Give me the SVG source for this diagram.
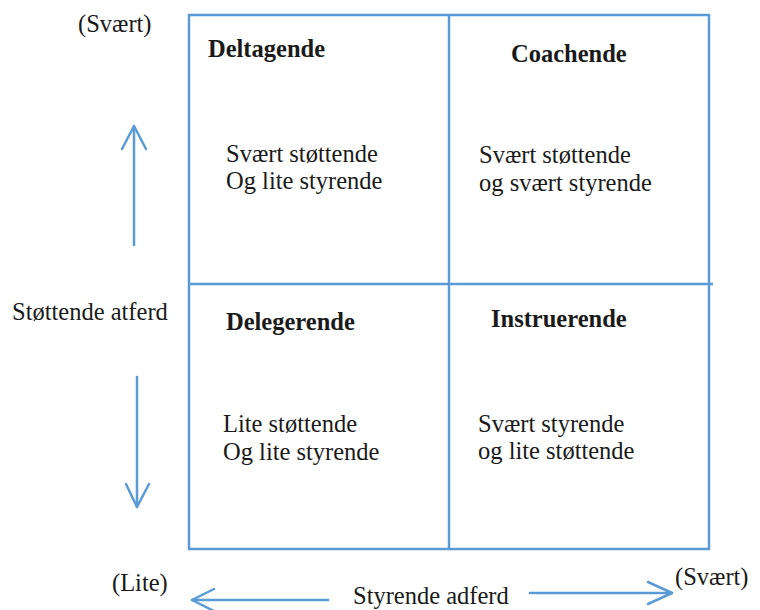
<svg xmlns="http://www.w3.org/2000/svg" width="760" height="610" viewBox="0 0 760 610">
<style>
.ln{fill:none;stroke:#5b9bd5;stroke-width:2.5}
.ar{fill:none;stroke:#5b9bd5;stroke-width:2.5;stroke-linecap:round;stroke-linejoin:round}
text{font-family:"Liberation Serif","Times New Roman",serif;font-size:24.5px;fill:#1a1a1a}
.b{font-weight:bold}
</style>
<rect width="760" height="610" fill="#ffffff"/>
<g id="grid">
<rect class="ln" x="189" y="15" width="520" height="534"/>
<line class="ln" x1="449" y1="15" x2="449" y2="549"/>
<line class="ln" x1="189" y1="284" x2="713" y2="284"/>
</g>
<g id="q-deltagende">
<text class="b" x="208" y="57">Deltagende</text>
<text x="226" y="162">Svært støttende</text>
<text x="226" y="189">Og lite styrende</text>
</g>
<g id="q-coachende">
<text class="b" x="511" y="62">Coachende</text>
<text x="479" y="163">Svært støttende</text>
<text x="479" y="191">og svært styrende</text>
</g>
<g id="q-delegerende">
<text class="b" x="226" y="330">Delegerende</text>
<text x="223" y="432">Lite støttende</text>
<text x="223" y="460">Og lite styrende</text>
</g>
<g id="q-instruerende">
<text class="b" x="491" y="327">Instruerende</text>
<text x="478" y="432">Svært styrende</text>
<text x="478" y="459">og lite støttende</text>
</g>
<g id="labels">
<text x="78" y="32">(Svært)</text>
<text x="12" y="320">Støttende atferd</text>
<text x="112" y="591">(Lite)</text>
<text x="353" y="604">Styrende adferd</text>
<text x="675" y="585">(Svært)</text>
</g>
<g id="connectors">
<line class="ar" x1="134" y1="245" x2="134" y2="126"/>
<polyline class="ar" points="122,149 134,126 146,149"/>
<line class="ar" x1="137" y1="377" x2="137" y2="507"/>
<polyline class="ar" points="126,484 137,507 149,484"/>
<line class="ar" x1="328" y1="600" x2="192" y2="600"/>
<polyline class="ar" points="214,589 192,600 214,611"/>
<line class="ar" x1="530" y1="593" x2="672" y2="593"/>
<polyline class="ar" points="648,582 672,593 648,604"/>
</g>
</svg>
